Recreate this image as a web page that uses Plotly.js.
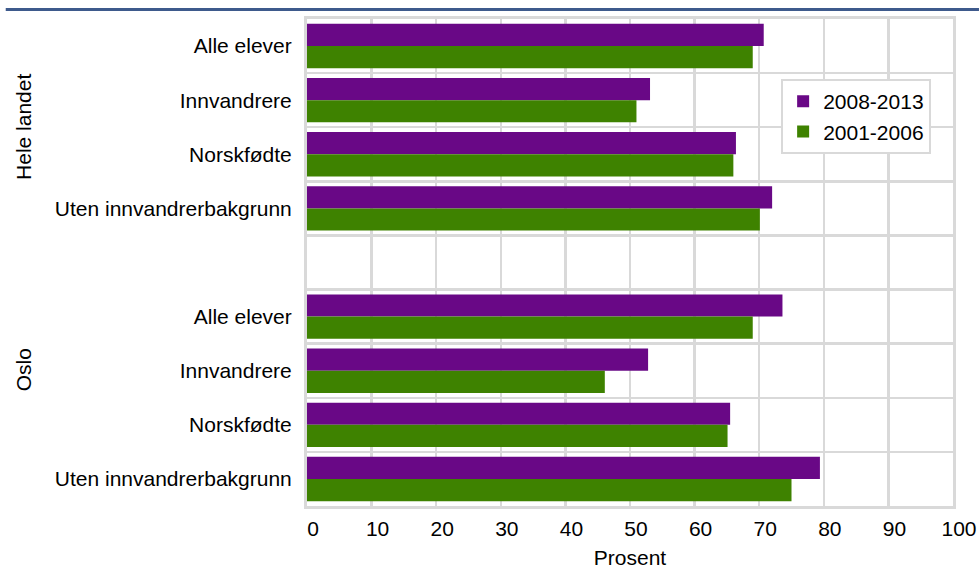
<!DOCTYPE html>
<html>
<head>
<meta charset="utf-8">
<script src="https://cdn.plot.ly/plotly-3.0.1.min.js"></script>
<style>html,body{margin:0;padding:0;background:#fff;}#chart{width:979px;height:569px;}</style>
</head>
<body>
<div id="chart"></div>
<script>
// Data
const groups = ["Hele landet", "Oslo"];
const categories = ["Alle elever", "Innvandrere", "Norskfødte", "Uten innvandrerbakgrunn"];
const seriesNames = ["2008-2013", "2001-2006"];
const heleLandet_2008_2013 = [70.7, 53.1, 66.4, 72.0];
const heleLandet_2001_2006 = [69.0, 51.0, 66.0, 70.1];
const oslo_2008_2013 = [73.6, 52.8, 65.5, 79.4];
const oslo_2001_2006 = [69.0, 46.1, 65.1, 75.0];
const xTicks = [0, 10, 20, 30, 40, 50, 60, 70, 80, 90, 100];

const colors = ["#690886", "#3e8200"];
const FONT = "Liberation Sans, Arial, sans-serif";
const FS = 21;

// Build positions: each group occupies categories.length slots plus one empty slot between groups
const slot = categories.length + 1;
const yPos = [], yText = [];
groups.forEach((g, gi) => categories.forEach((c, ci) => { yPos.push(gi * slot + ci); yText.push(c); }));
const nSlots = groups.length * slot - 1;
const boundaries = [];
for (let i = 0; i <= nSlots; i++) boundaries.push(i - 0.5);

const s1 = heleLandet_2008_2013.concat(oslo_2008_2013);
const s2 = heleLandet_2001_2006.concat(oslo_2001_2006);

const traces = [s1, s2].map((vals, i) => ({
  type: "bar", orientation: "h",
  x: vals, y: yPos,
  name: seriesNames[i],
  marker: {color: colors[i], line: {width: 0}},
  hoverinfo: "x+name"
}));

const gridColor = "#d9d9d9";
const plotL = 306.5, plotR = 953, plotT = 19, plotB = 506;
const pw = plotR - plotL, ph = plotB - plotT;

const layout = {
  width: 979, height: 569,
  margin: {l: plotL, r: 979 - plotR, t: plotT, b: 569 - plotB, pad: 0},
  paper_bgcolor: "#ffffff", plot_bgcolor: "#ffffff",
  barmode: "group", bargap: 0.18, bargroupgap: 0,
  font: {family: FONT, size: FS, color: "#000"},
  showlegend: true,
  legend: {
    x: (781 - plotL) / pw, y: (plotB - 79) / ph, xanchor: "left", yanchor: "top",
    bgcolor: "#ffffff", bordercolor: gridColor, borderwidth: 2,
    font: {family: FONT, size: FS, color: "#000"},
    traceorder: "normal", itemwidth: 30, tracegroupgap: 0
  },
  xaxis: {
    range: [0, 100], tickvals: xTicks, ticktext: xTicks.map(String),
    showgrid: true, gridcolor: gridColor, gridwidth: 2.5,
    zeroline: false, showline: true, linecolor: gridColor, linewidth: 3, mirror: true,
    ticks: "", tickfont: {family: FONT, size: FS, color: "#000"},
    ticklabelstandoff: 2, ticklabelshift: 6,
    title: {text: "Prosent", font: {family: FONT, size: FS, color: "#000"}, standoff: 23},
    fixedrange: true
  },
  yaxis: {
    range: [nSlots - 0.5, -0.5],
    tickvals: yPos, ticktext: yText,
    showgrid: false, zeroline: false,
    showline: true, linecolor: gridColor, linewidth: 3, mirror: true,
    ticks: "", tickfont: {family: FONT, size: FS, color: "#000"},
    ticklabelstandoff: 8,
    minor: {tickvals: boundaries, showgrid: true, gridcolor: gridColor, gridwidth: 2.5, ticks: ""},
    fixedrange: true
  },
  annotations: [
    {text: groups[0], xref: "paper", yref: "y", x: (23 - plotL) / pw, y: (categories.length - 1) / 2,
     textangle: -90, showarrow: false, font: {family: FONT, size: FS, color: "#000"}, xanchor: "center", yanchor: "middle"},
    {text: groups[1], xref: "paper", yref: "y", x: (23 - plotL) / pw, y: slot + 0.98,
     textangle: -90, showarrow: false, font: {family: FONT, size: FS, color: "#000"}, xanchor: "center", yanchor: "middle"}
  ],
  shapes: [
    {type: "line", xref: "paper", yref: "paper", x0: (5 - plotL) / pw, x1: (979 - plotL) / pw,
     y0: (plotB - 9.5) / ph, y1: (plotB - 9.5) / ph, line: {color: "#3e5a8c", width: 3}}
  ]
};

Plotly.newPlot("chart", traces, layout, {displayModeBar: false, staticPlot: true});
</script>
</body>
</html>
